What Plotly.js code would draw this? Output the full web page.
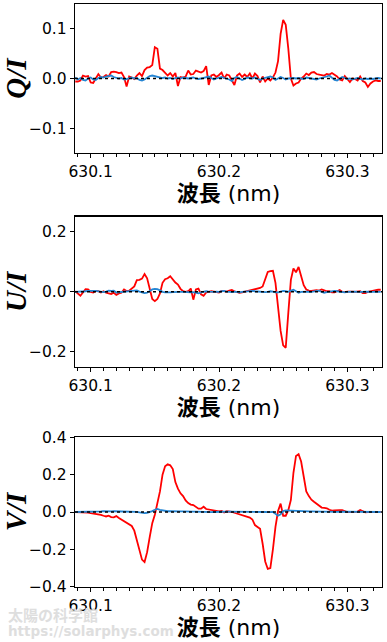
<!DOCTYPE html>
<html>
<head>
<meta charset="utf-8">
<script src="https://cdn.plot.ly/plotly-3.0.1.min.js"></script>
<style>
html,body{margin:0;padding:0;background:#fff;}
#chart{width:387px;height:642px;}
</style>
</head>
<body>
<div id="chart"></div>
<script>
// wavelength grid (nm)
const wavelength = [
630.088,630.090,630.092,630.094,630.096,630.098,630.100,630.102,630.104,630.106,
630.108,630.110,630.112,630.114,630.116,630.118,630.120,630.122,630.124,630.126,
630.128,630.130,630.132,630.134,630.136,630.138,630.140,630.142,630.144,630.146,
630.148,630.150,630.152,630.154,630.156,630.158,630.160,630.162,630.164,630.166,
630.168,630.170,630.172,630.174,630.176,630.178,630.180,630.182,630.184,630.186,
630.188,630.190,630.192,630.194,630.196,630.198,630.200,630.202,630.204,630.206,
630.208,630.210,630.212,630.214,630.216,630.218,630.220,630.222,630.224,630.226,
630.228,630.230,630.232,630.234,630.236,630.238,630.240,630.242,630.244,630.246,
630.248,630.250,630.252,630.254,630.256,630.258,630.260,630.262,630.264,630.266,
630.268,630.270,630.272,630.274,630.276,630.278,630.280,630.282,630.284,630.286,
630.288,630.290,630.292,630.294,630.296,630.298,630.300,630.302,630.304,630.306,
630.308,630.310,630.312,630.314,630.316,630.318,630.320,630.322,630.324,630.326];

// Q/I observed (red)
const qRed = [
-0.006,-0.006,-0.004,0.006,0.004,0.005,-0.008,-0.009,0.000,0.009,
0.002,0.003,0.007,0.004,0.013,0.014,0.013,0.011,0.012,0.003,
-0.016,0.004,0.002,-0.001,0.006,0.011,0.005,0.017,0.022,0.023,
0.027,0.063,0.060,0.020,0.017,0.012,0.006,0.011,0.004,0.011,
-0.015,0.003,0.002,0.004,0.016,0.008,0.009,0.016,0.014,0.012,
0.015,0.025,-0.013,0.006,0.008,0.003,0.007,0.012,0.000,0.008,
0.006,-0.003,-0.013,0.006,0.010,0.003,0.008,0.003,0.010,0.000,
0.010,0.005,-0.008,0.004,-0.006,0.000,-0.004,0.002,0.012,0.035,
0.090,0.118,0.108,0.060,0.000,-0.014,-0.010,-0.008,0.000,0.004,
0.010,0.007,0.012,0.013,0.009,0.008,0.007,0.006,0.009,0.008,
0.011,0.008,0.004,-0.002,-0.004,0.005,-0.002,-0.007,0.000,-0.001,
-0.004,0.004,-0.005,-0.008,-0.017,-0.010,-0.006,-0.004,-0.005,-0.005];

// Q/I reference (blue)
const qBlue = [
0.002,-0.002,0.001,-0.003,-0.004,0.000,0.002,-0.002,-0.003,0.001,
0.003,0.002,0.004,0.005,0.006,0.003,0.002,0.000,0.001,-0.002,
-0.001,0.001,0.002,0.000,0.001,-0.003,-0.004,-0.002,0.001,0.005,
0.006,0.005,0.004,0.002,0.001,0.002,0.000,0.001,-0.001,0.001,
0.002,0.000,0.002,0.001,0.000,0.001,0.002,0.000,-0.001,0.000,
0.001,0.002,0.004,0.001,-0.002,0.000,0.001,0.003,0.001,0.000,
-0.002,-0.005,0.001,0.003,0.000,-0.003,-0.001,0.002,0.001,0.000,
0.002,-0.001,-0.003,0.000,0.001,0.002,0.004,0.002,-0.003,0.000,
0.003,0.001,-0.002,0.000,0.001,0.001,0.000,0.001,0.000,-0.001,
0.002,0.001,0.000,-0.001,-0.002,0.000,0.001,0.002,0.004,0.006,
0.002,-0.003,-0.004,0.000,0.003,0.001,-0.001,0.000,-0.002,0.000,
0.001,-0.001,-0.002,0.000,-0.001,0.000,-0.001,0.000,0.001,0.000];

// U/I observed (red)
const uRed = [
0.002,-0.005,-0.013,-0.002,0.009,0.008,0.000,-0.002,0.003,0.002,
-0.002,0.002,-0.003,-0.005,-0.007,-0.003,-0.010,-0.005,-0.003,0.008,
0.003,0.004,0.012,0.018,0.039,0.040,0.044,0.059,0.045,0.005,
-0.024,-0.031,-0.024,-0.005,0.030,0.042,0.045,0.052,0.040,0.031,
0.024,0.010,0.002,0.000,0.002,0.011,-0.026,0.008,0.011,-0.008,
-0.013,-0.002,0.000,0.002,0.001,0.000,-0.002,0.003,0.002,0.001,
0.004,0.006,0.002,-0.001,-0.003,-0.002,0.000,0.002,0.004,0.006,
0.008,0.011,0.013,0.018,0.040,0.066,0.069,0.070,0.030,-0.042,
-0.130,-0.178,-0.186,-0.070,0.040,0.078,0.065,0.083,0.050,0.022,
0.008,0.004,0.003,0.004,0.006,0.004,0.008,0.005,0.002,0.002,
-0.002,-0.002,0.002,0.006,0.000,-0.001,0.001,0.002,0.001,0.000,
0.001,0.002,-0.004,-0.004,0.000,0.002,0.004,0.006,0.007,0.007];

// U/I reference (blue)
const uBlue = [
0.000,0.000,0.001,0.002,0.002,0.003,0.002,0.003,0.003,0.001,
0.000,-0.001,0.001,0.004,0.003,0.004,-0.002,-0.001,0.000,0.001,
0.000,0.001,0.002,0.003,0.005,0.001,-0.002,-0.004,-0.003,0.002,
0.008,0.010,0.009,0.005,0.000,-0.002,-0.003,-0.002,-0.001,0.000,
0.001,0.000,0.000,-0.001,0.000,-0.002,-0.001,-0.004,-0.005,-0.002,
0.001,0.002,0.001,0.000,0.000,0.001,0.000,0.002,0.003,0.001,
0.000,-0.001,0.001,0.000,-0.002,0.000,0.001,0.000,0.002,0.003,
0.002,0.001,0.000,0.001,-0.001,0.000,0.002,0.001,-0.002,-0.002,
0.000,0.003,0.002,0.000,0.004,0.007,0.002,-0.003,0.000,0.001,
0.002,0.001,0.000,0.001,0.002,0.004,0.000,-0.003,-0.001,0.001,
0.002,0.003,0.002,0.000,-0.001,-0.002,0.000,0.001,0.000,0.001,
0.000,-0.001,0.000,0.001,0.000,-0.001,0.000,0.001,0.000,0.000];

// V/I observed (red)
const vRed = [
0.000,0.000,0.000,0.000,-0.002,-0.003,-0.006,-0.008,-0.010,-0.012,
-0.015,-0.020,-0.024,-0.020,-0.027,-0.029,-0.022,-0.032,-0.040,-0.048,
-0.060,-0.068,-0.075,-0.100,-0.150,-0.210,-0.255,-0.268,-0.215,-0.135,
-0.060,-0.015,0.040,0.110,0.200,0.245,0.256,0.250,0.230,0.160,
0.125,0.100,0.085,0.062,0.048,0.040,0.037,0.026,0.018,0.018,
0.028,0.016,0.014,0.010,0.008,0.005,0.003,0.006,-0.002,0.004,
0.004,0.000,-0.004,-0.008,-0.014,-0.017,-0.020,-0.022,-0.030,-0.040,
-0.070,-0.080,-0.090,-0.170,-0.265,-0.305,-0.300,-0.200,-0.080,0.005,
0.045,-0.020,-0.020,0.010,0.065,0.210,0.300,0.310,0.270,0.190,
0.110,0.085,0.066,0.055,0.045,0.035,0.024,0.022,0.020,0.012,
0.007,0.008,0.007,0.010,0.010,0.003,0.000,0.000,0.000,0.000,
0.002,0.010,0.006,-0.002,0.000,0.001,0.000,0.002,0.001,0.001];

// V/I reference (blue)
const vBlue = [
0.000,0.000,0.001,0.000,-0.001,0.000,0.001,0.002,0.002,0.003,
0.003,0.004,0.003,0.004,0.003,0.004,0.004,0.003,0.004,0.003,
0.002,0.002,0.003,0.002,0.001,-0.002,-0.005,-0.006,-0.004,-0.001,
0.005,0.012,0.016,0.012,0.008,0.005,0.004,0.004,0.003,0.004,
0.004,0.003,0.003,0.002,0.003,0.003,0.002,0.002,0.001,0.002,
0.001,0.001,0.000,-0.001,0.000,0.001,0.001,0.000,0.001,0.002,
0.002,0.002,0.003,0.003,0.002,0.003,0.003,0.002,0.004,0.003,
0.002,0.003,0.003,0.002,0.000,-0.001,0.001,0.000,-0.010,-0.020,
-0.012,0.005,0.009,0.008,0.007,0.006,0.005,0.005,0.004,0.004,
0.004,0.003,0.003,0.002,0.002,0.003,0.002,0.002,0.001,0.001,
0.001,0.000,0.001,0.002,0.002,0.001,0.001,0.000,0.001,0.001,
0.002,0.002,0.001,0.000,0.001,0.002,0.001,0.001,0.000,0.000];

const xTickVals = [630.1, 630.2, 630.3];
const xTickText = ['630.1', '630.2', '630.3'];
const yTitles = ['Q/I', 'U/I', 'V/I'];
const xTitle = '<b>波長</b> (nm)';

const W = 387, H = 642;
const RED = '#ff0000', BLUE = '#2585d3';

function trace(y, color, ax) {
  return {x: wavelength, y: y, type: 'scatter', mode: 'lines',
          line: {color: color, width: 1.8}, xaxis: 'x' + ax, yaxis: 'y' + ax,
          showlegend: false, hoverinfo: 'skip'};
}
const data = [
  trace(qRed, RED, ''), trace(qBlue, BLUE, ''),
  trace(uRed, RED, '2'), trace(uBlue, BLUE, '2'),
  trace(vRed, RED, '3'), trace(vBlue, BLUE, '3')
];

const tickFont = {family: 'DejaVu Sans', size: 15.5, color: '#000'};
function xAxis(anchor) {
  return {
    domain: [75 / W, 382 / W], anchor: anchor,
    range: [630.0878, 630.327],
    tickmode: 'array', tickvals: xTickVals, ticktext: xTickText,
    ticks: 'outside', ticklen: 4, tickwidth: 1, tickcolor: '#000',
    minor: {tickmode: 'linear', tick0: 630.1, dtick: 0.01, ticks: 'outside',
            ticklen: 2.5, tickwidth: 1, tickcolor: '#000', showgrid: false},
    showline: true, mirror: true, linecolor: '#000', linewidth: 1.3,
    showgrid: false, zeroline: false, tickfont: tickFont,
    title: {text: xTitle, font: {family: 'DejaVu Sans, Noto Sans CJK JP', size: 22, color: '#000'}, standoff: 3}
  };
}
function yAxis(anchor, top, bottom, range, dtick, title) {
  return {
    domain: [1 - bottom / H, 1 - top / H], anchor: anchor,
    range: range, tickmode: 'linear', tick0: 0, dtick: dtick, tickformat: '.1f',
    ticks: 'outside', ticklen: 4, tickwidth: 1, tickcolor: '#000',
    showline: true, mirror: true, linecolor: '#000', linewidth: 1.3,
    showgrid: false, zeroline: false, tickfont: tickFont,
    title: {text: '<b><i>' + title + '</i></b>', font: {family: 'Liberation Serif', size: 29, color: '#000'}, standoff: 4}
  };
}

function zeroLine(ax) {
  return {type: 'line', xref: 'x' + ax + ' domain', yref: 'y' + ax, x0: 0, x1: 1, y0: 0, y1: 0,
          line: {color: '#000', width: 1.5, dash: 'dot'}, layer: 'above'};
}

const layout = {
  width: W, height: H,
  margin: {l: 0, r: 0, t: 0, b: 0},
  paper_bgcolor: '#fff', plot_bgcolor: '#fff',
  xaxis: xAxis('y'), yaxis: yAxis('x', 4, 153, [-0.15, 0.15], 0.1, yTitles[0]),
  xaxis2: xAxis('y2'), yaxis2: yAxis('x2', 216.7, 367, [-0.25, 0.25], 0.2, yTitles[1]),
  xaxis3: xAxis('y3'), yaxis3: yAxis('x3', 437.3, 586.7, [-0.4, 0.4], 0.2, yTitles[2]),
  shapes: [zeroLine(''), zeroLine('2'), zeroLine('3')],
  annotations: [
    {text: '<b>太陽の科学館</b>', xref: 'paper', yref: 'paper', x: 6 / W, y: 1 - 614 / H,
     xanchor: 'left', yanchor: 'middle', showarrow: false,
     font: {family: 'Noto Sans CJK JP', size: 15, color: '#dedede'}},
    {text: '<b>https://solarphys.com</b>', xref: 'paper', yref: 'paper', x: 6 / W, y: 1 - 631 / H,
     xanchor: 'left', yanchor: 'middle', showarrow: false,
     font: {family: 'DejaVu Sans', size: 13.5, color: '#dedede'}}
  ]
};

Plotly.newPlot('chart', data, layout, {staticPlot: true, displayModeBar: false});
</script>
</body>
</html>
